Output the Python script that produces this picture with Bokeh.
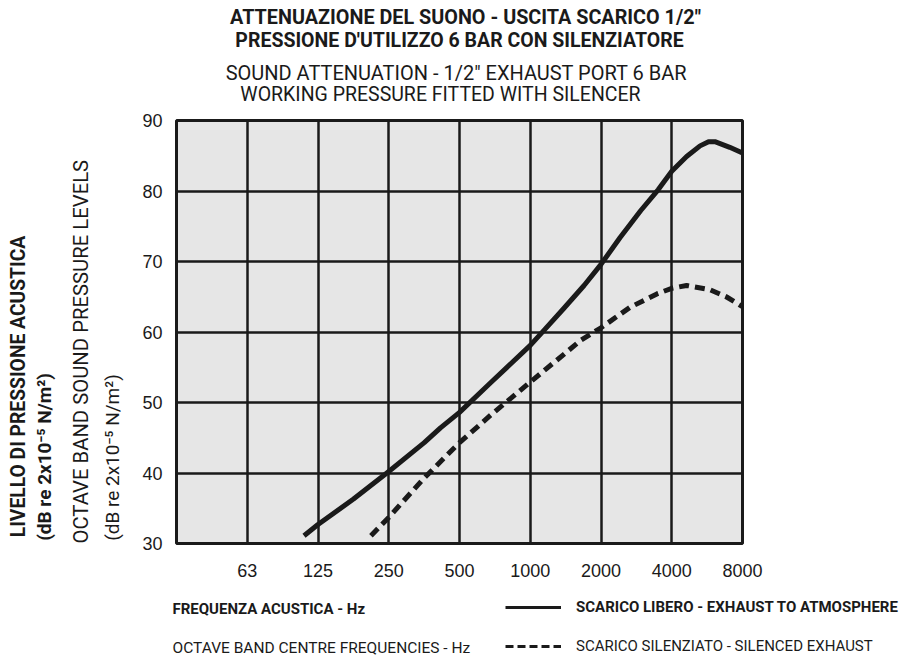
from math import pi
from bokeh.plotting import figure
from bokeh.layouts import column, row
from bokeh.models import FixedTicker, Label, Legend, LegendItem, Range1d
from bokeh.embed import file_html
from bokeh.resources import INLINE

# ---- data ----
band_ticks = [62.5, 125, 250, 500, 1000, 2000, 4000, 8000]
band_labels = ["63", "125", "250", "500", "1000", "2000", "4000", "8000"]
db_ticks = [30, 40, 50, 60, 70, 80, 90]

free_hz = [109, 125, 177, 250, 354, 415, 500, 678, 1000, 1141, 1385, 1694, 2000, 2412, 2948, 3506,
           4000, 4627, 5278, 5736, 6105, 7062, 8000]
free_db = [31.1, 32.7, 36.3, 40.2, 44.3, 46.4, 48.6, 52.8, 58.1, 60.2, 63.3, 66.6, 69.6, 73.4, 77.2, 80.2,
           82.8, 84.9, 86.4, 87.0, 87.0, 86.2, 85.4]

sil_hz = [210, 250, 354, 500, 678, 1000, 1434, 1636, 2000, 2657, 3458, 4000, 4627, 5816, 6821, 8000]
sil_db = [31.1, 33.7, 39.3, 44.3, 48.2, 52.9, 57.2, 58.8, 60.6, 63.5, 65.4, 66.2, 66.6, 66.0, 65.0, 63.6]

title_it = ["ATTENUAZIONE DEL SUONO - USCITA SCARICO 1/2\"", "PRESSIONE D'UTILIZZO 6 BAR CON SILENZIATORE"]
title_en = ["SOUND ATTENUATION - 1/2\" EXHAUST PORT 6 BAR", "WORKING PRESSURE FITTED WITH SILENCER"]
ylab_it = ["LIVELLO DI PRESSIONE ACUSTICA", "(dB re 2x10\u207b\u2075 N/m\u00b2)"]
ylab_en = ["OCTAVE BAND SOUND PRESSURE LEVELS", "(dB re 2x10\u207b\u2075 N/m\u00b2)"]
xlab_it = "FREQUENZA ACUSTICA - Hz"
xlab_en = "OCTAVE BAND CENTRE FREQUENCIES - Hz"
series_names = ["SCARICO LIBERO - EXHAUST TO ATMOSPHERE", "SCARICO SILENZIATO - SILENCED EXHAUST"]

INK = "#1a1a1a"
TXT = "Roboto"
SANS = "Liberation Sans"

HEAD_H, MAIN_H, FOOT_H = 110, 473, 76
LEFT_W = 130


def text_fig(w, h):
    f = figure(width=w, height=h, x_range=Range1d(0, w), y_range=Range1d(h, 0),
               output_backend="svg", toolbar_location=None, min_border=0,
               x_axis_location=None, y_axis_location=None)
    f.grid.visible = False
    f.outline_line_color = None
    f.background_fill_color = "white"
    f.border_fill_color = "white"
    return f


def lab(f, x, y, text, size, bold=False, align="center", angle=0):
    f.add_layout(Label(x=x, y=y, text=text, text_font=TXT, text_font_size=f"{size}px",
                       text_font_style="bold" if bold else "normal", text_color=INK,
                       text_align=align, text_baseline="middle", angle=angle))


# ---- header ----
head = text_fig(908, HEAD_H)
lab(head, 465, 17, title_it[0], 19.8, bold=True)
lab(head, 459, 40, title_it[1], 19.5, bold=True)
lab(head, 456, 72, title_en[0], 20)
lab(head, 440, 94, title_en[1], 19.5)

# ---- left axis titles (read bottom to top, starting at the chart's base) ----
left = text_fig(LEFT_W, MAIN_H)
lab(left, 18, 576 - HEAD_H, ylab_it[0], 19.3, bold=True, align="left", angle=pi / 2)
lab(left, 44, 580 - HEAD_H, ylab_it[1], 19.0, bold=True, align="left", angle=pi / 2)
lab(left, 80, 583 - HEAD_H, ylab_en[0], 20.3, align="left", angle=pi / 2)
lab(left, 112, 580 - HEAD_H, ylab_en[1], 19.0, align="left", angle=pi / 2)

# ---- main chart ----
p = figure(width=908 - LEFT_W, height=MAIN_H, x_axis_type="log", x_range=(31.25, 8000), y_range=(30, 90),
           output_backend="svg", toolbar_location=None,
           min_border_left=176 - LEFT_W, min_border_right=908 - 742, min_border_top=120 - HEAD_H,
           min_border_bottom=HEAD_H + MAIN_H - 543)
p.background_fill_color = "#e6e6e6"
p.border_fill_color = "white"
p.outline_line_color = INK
p.outline_line_width = 3

p.xgrid.ticker = FixedTicker(ticks=band_ticks[:-1])
p.ygrid.ticker = FixedTicker(ticks=db_ticks[1:-1])
for g in (p.xgrid, p.ygrid):
    g.grid_line_color = INK
    g.grid_line_width = 2.5
    g.grid_line_alpha = 1

p.xaxis.ticker = FixedTicker(ticks=band_ticks)
p.xaxis.major_label_overrides = dict(zip(band_ticks, band_labels))
p.yaxis.ticker = FixedTicker(ticks=db_ticks)
for ax in (p.xaxis, p.yaxis):
    ax.axis_line_color = None
    ax.major_tick_line_color = None
    ax.minor_tick_line_color = None
    ax.major_label_text_font = SANS
    ax.major_label_text_font_size = "18px"
    ax.major_label_text_color = INK
p.xaxis.major_label_standoff = 14
p.yaxis.major_label_standoff = 8

p.line(free_hz, free_db, line_color=INK, line_width=5, line_join="round")
p.line(sil_hz, sil_db, line_color=INK, line_width=5, line_dash="10 6")

# ---- footer: axis caption + legend ----
foot = text_fig(908, FOOT_H)
lab(foot, 172, 608 - HEAD_H - MAIN_H, xlab_it, 15, bold=True, align="left")
lab(foot, 172, 647 - HEAD_H - MAIN_H, xlab_en, 15.5, align="left")

nan = float("nan")
k1 = foot.line(x=[nan], y=[nan], line_color=INK, line_width=3)
k2 = foot.line(x=[nan], y=[nan], line_color=INK, line_width=3, line_dash="8 4")
for r, name, cy, style in ((k1, series_names[0], 607, "bold"), (k2, series_names[1], 646, "normal")):
    ly = cy - HEAD_H - MAIN_H
    lg = Legend(items=[LegendItem(label=name, renderers=[r])], location=(505, FOOT_H - (ly + 10)),
                background_fill_alpha=0, border_line_color=None, padding=0, margin=0, spacing=0,
                glyph_width=56, glyph_height=20, label_height=20, label_standoff=15,
                label_text_font=TXT, label_text_font_size="15px", label_text_font_style=style,
                label_text_color=INK, label_text_baseline="middle")
    foot.add_layout(lg)

layout = column(head, row(left, p, spacing=0), foot, spacing=0)
open("out.html", "w").write(file_html(layout, INLINE))
